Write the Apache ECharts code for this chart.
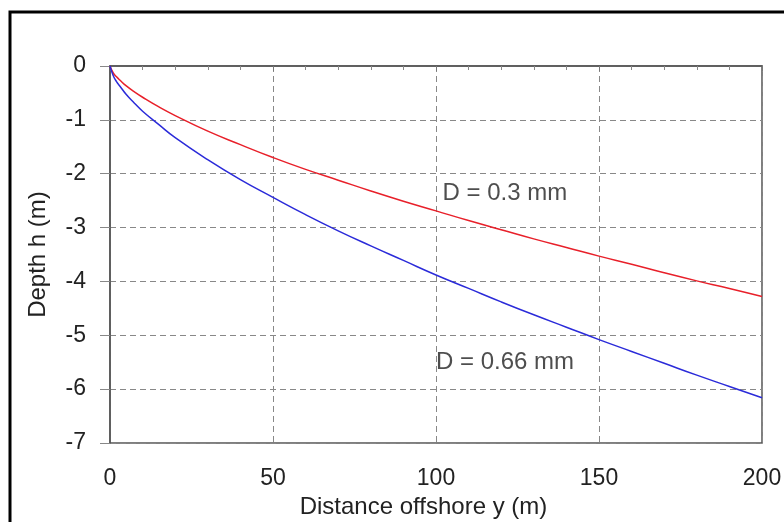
<!DOCTYPE html>
<html>
<head>
<meta charset="utf-8">
<script src="https://cdn.jsdelivr.net/npm/echarts@6/dist/echarts.min.js"></script>
<style>
  html, body { margin: 0; padding: 0; background: #fff; }
  #chart { width: 784px; height: 522px; }
</style>
</head>
<body>
<div id="chart"></div>
<script>
  // distance offshore (m)
  var distance = [0, 1, 2, 3, 5, 7.5, 10, 15, 20, 30, 40, 50, 60, 70, 80, 90, 100,
    110, 120, 130, 140, 150, 160, 170, 180, 190, 200];
  // depth, D = 0.3 mm
  var depthFine = [0, -0.13, -0.20, -0.26, -0.37, -0.48, -0.58, -0.76, -0.92, -1.21, -1.46,
    -1.70, -1.92, -2.12, -2.32, -2.51, -2.69, -2.87, -3.04, -3.21, -3.37, -3.53, -3.68,
    -3.84, -3.99, -4.13, -4.28];
  // depth, D = 0.66 mm
  var depthCoarse = [0, -0.18, -0.29, -0.37, -0.53, -0.69, -0.84, -1.09, -1.33, -1.74, -2.11,
    -2.44, -2.76, -3.06, -3.34, -3.61, -3.88, -4.13, -4.38, -4.62, -4.85, -5.08, -5.30,
    -5.52, -5.74, -5.95, -6.16];
  var xTicks = [0, 50, 100, 150, 200];
  var yTicks = [0, -1, -2, -3, -4, -5, -6, -7];
  var notes = [
    { text: 'D = 0.3 mm', x: 102, y: -2.36 },
    { text: 'D = 0.66 mm', x: 100, y: -5.51 }
  ];

  function pairs(xs, ys) {
    return xs.map(function (x, i) { return [x, ys[i]]; });
  }

  var chart = echarts.init(document.getElementById('chart'));
  var txt = { fontFamily: 'Liberation Sans, Arial, sans-serif', color: '#222' };
  chart.setOption({
    animation: false,
    textStyle: txt,
    graphic: [{
      type: 'rect',
      shape: { x: 10, y: 12, width: 800, height: 540 },
      style: { fill: 'none', stroke: '#000', lineWidth: 3 },
      silent: true
    }],
    grid: {
      left: 110, right: 22, top: 66, bottom: 79,
      outerBoundsMode: 'none',
      show: true, borderColor: '#555', borderWidth: 1.5
    },
    xAxis: {
      type: 'value',
      min: xTicks[0], max: xTicks[xTicks.length - 1], interval: 50,
      name: 'Distance offshore y (m)',
      nameLocation: 'middle', nameGap: 52,
      nameTextStyle: { fontSize: 24, color: '#222', padding: [0, 25, 0, 0] },
      axisLine: { lineStyle: { color: '#555', width: 1.5 } },
      axisTick: { show: true, length: 5, lineStyle: { color: '#777' } },
      minorTick: { show: true, splitNumber: 5, length: 4, lineStyle: { color: '#888' } },
      axisLabel: { fontSize: 23, margin: 24, color: '#222' },
      splitLine: { show: true, lineStyle: { color: '#888', type: [6, 4], width: 1 } }
    },
    yAxis: {
      type: 'value',
      min: yTicks[yTicks.length - 1], max: yTicks[0], interval: 1,
      name: 'Depth h (m)',
      nameLocation: 'middle', nameGap: 60,
      nameTextStyle: { fontSize: 24, color: '#222' },
      axisLine: { show: true, lineStyle: { color: '#555', width: 1.5 } },
      axisTick: { show: true, length: 10, lineStyle: { color: '#888' } },
      axisLabel: { fontSize: 23, margin: 24, color: '#222' },
      splitLine: { show: true, lineStyle: { color: '#888', type: [6, 4], width: 1 } }
    },
    series: [
      {
        name: 'D = 0.3 mm', type: 'line', showSymbol: false, smooth: true,
        data: pairs(distance, depthFine),
        lineStyle: { color: '#e8202a', width: 1.5 }
      },
      {
        name: 'D = 0.66 mm', type: 'line', showSymbol: false, smooth: true,
        data: pairs(distance, depthCoarse),
        lineStyle: { color: '#2b2bd9', width: 1.5 }
      },
      {
        type: 'scatter', symbolSize: 0, silent: true,
        data: notes.map(function (n) { return { value: [n.x, n.y], name: n.text }; }),
        label: {
          show: true, position: 'right', distance: 0,
          formatter: '{b}', fontSize: 24, color: '#222'
        }
      }
    ]
  });
</script>
</body>
</html>
